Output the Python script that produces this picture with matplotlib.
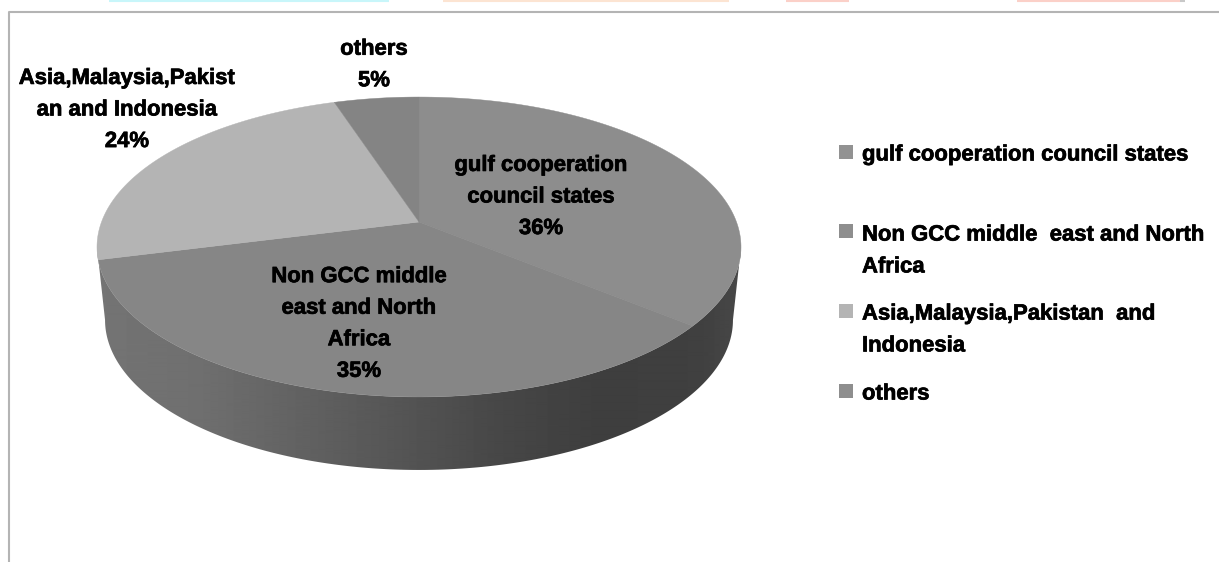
import numpy as np
import matplotlib
matplotlib.use("Agg")
import matplotlib.pyplot as plt
import matplotlib.patheffects as pe
from matplotlib.patches import Polygon

categories = ["gulf cooperation council states", "Non GCC middle east and North Africa",
              "Asia,Malaysia,Pakistan  and Indonesia", "others"]
shares = [36, 35, 24, 5]
slice_labels = ["gulf cooperation\ncouncil states", "Non GCC middle\neast and North\nAfrica",
                "Asia,Malaysia,Pakist\nan and Indonesia", "others"]
legend_labels = ["gulf cooperation council states", "Non GCC middle  east and North\nAfrica",
                 "Asia,Malaysia,Pakistan  and\nIndonesia", "others"]
top_colors = ["#8d8d8d", "#868686", "#b4b4b4", "#848484"]
legend_colors = ["#929292", "#8e8e8e", "#b4b4b4", "#8e8e8e"]

W, H = 1219, 562
CX, CY = 419, 222
A, B, K = 317.5, 145.8, 1 / 6
DEPTH = 73


def project(theta, shrink=1.0):
    # pie plane seen in perspective, so the centre sits above the ellipse middle
    u, v = np.cos(theta), np.sin(theta)
    d = 1 + K * v
    return CX + shrink * A * u / d, CY - B * v / d


plt.rcParams["font.family"] = ["Liberation Sans"]
plt.rcParams["font.weight"] = "bold"
fig = plt.figure(figsize=(W / 100, H / 100), dpi=100)
ax = fig.add_axes([0, 0, 1, 1])
ax.axis("off")

# strips left over at the top edge
for x0, x1, c in [(109, 389, "#c8f6fa"), (443, 729, "#fce4d2"), (786, 849, "#fbd0c8"),
                  (1017, 1180, "#fbd0c8"), (1180, 1185, "#c8c8c8")]:
    ax.plot([x0, x1], [0.5, 0.5], color=c, lw=1.5, solid_capstyle="butt")

# chart frame
ax.plot([8.5, 8.5, W], [H, 12, 12], color="#b4b4b4", lw=1.5)

# side wall: horizontal shading clipped to the outline of the rim
side_x = [97, 200, 300, 400, 500, 600, 700, 741]
side_g = [0x74, 0x6f, 0x62, 0x55, 0x47, 0x3e, 0x40, 0x48]
rim = np.linspace(np.pi + np.arcsin(K), 2 * np.pi - np.arcsin(K), 300)
tx, ty = project(rim)
bx, by = project(rim[::-1], shrink=0.975)
outline = Polygon(np.c_[np.r_[tx, bx], np.r_[ty, by + DEPTH]], closed=True, transform=ax.transData,
                  fc="none", ec="none")
ax.add_patch(outline)
cols = np.arange(90, 750)
shade = np.interp(cols, side_x, side_g)[None, :]
img = ax.imshow(shade, cmap="gray", vmin=0, vmax=255, extent=(90, 750, 480, 230), aspect="auto",
                interpolation="bilinear")
img.set_clip_path(outline)

# top face of the pie, clockwise from twelve o'clock
edges = np.pi / 2 - 2 * np.pi * np.cumsum([0] + shares) / sum(shares)
for i, c in enumerate(top_colors):
    th = np.linspace(edges[i], edges[i + 1], 200)
    x, y = project(th)
    ax.fill(np.r_[CX, x], np.r_[CY, y], color=c, lw=0.3)

heavy = [pe.withStroke(linewidth=0.5, foreground="black")]

# slice labels
label_pos = [(541, 197), (359, 324), (127, 110), (374, 65)]
for lab, s, (x, y) in zip(slice_labels, shares, label_pos):
    ax.text(x, y, f"{lab}\n{s}%", ha="center", va="center", fontsize=15.9,
            linespacing=1.66, color="black", path_effects=heavy)

# legend
legend_y = [155, 251, 330, 394]
marker_y = [152, 231, 311, 391]
for lab, c, y, my in zip(legend_labels, legend_colors, legend_y, marker_y):
    ax.plot(846, my, marker="s", ms=10.5, color=c, mew=0)
    ax.text(862, y, lab, ha="left", va="center", fontsize=15.9, linespacing=1.68,
            color="black", path_effects=heavy)

ax.set_xlim(0, W)
ax.set_ylim(H, 0)
fig.savefig("out.png", dpi=100)
